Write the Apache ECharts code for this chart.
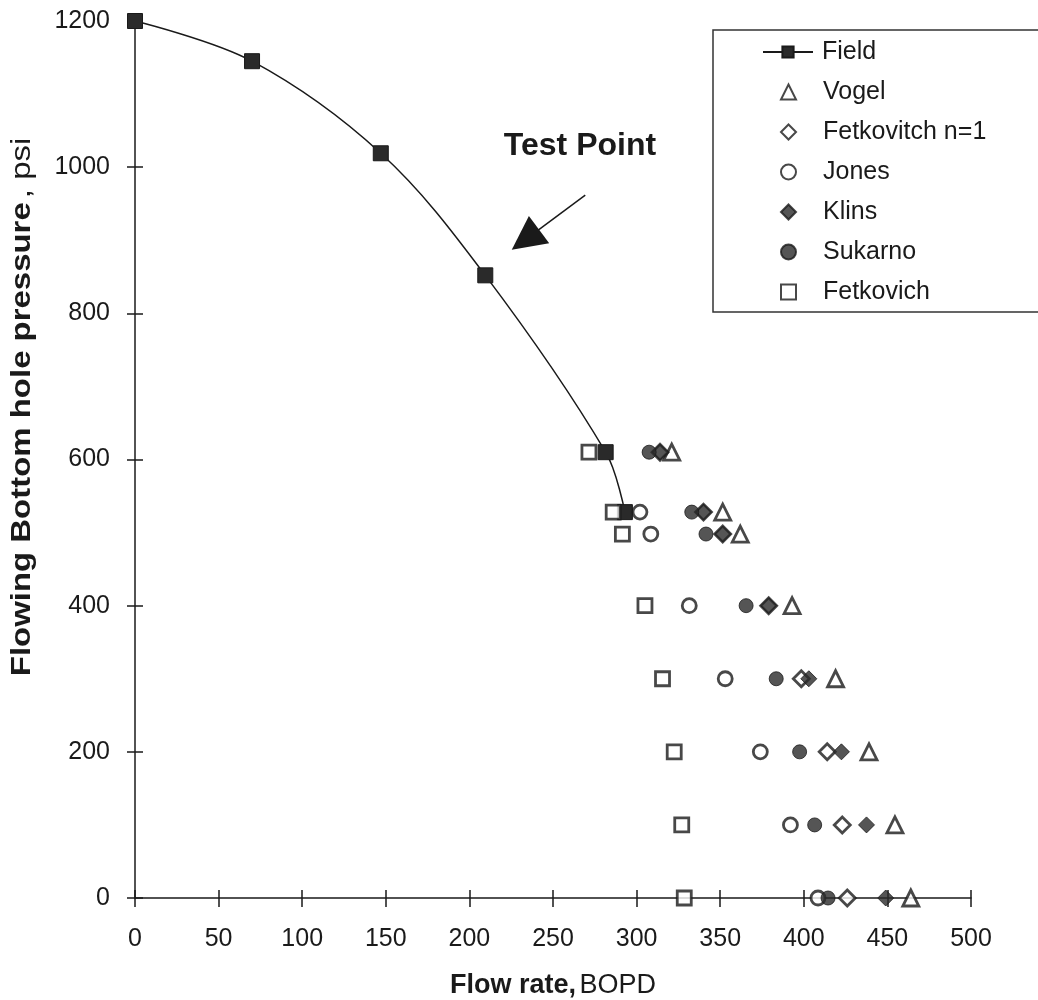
<!DOCTYPE html>
<html>
<head>
<meta charset="utf-8">
<script src="https://cdn.jsdelivr.net/npm/echarts@6/dist/echarts.min.js"></script>
<style>
  html, body { margin: 0; padding: 0; background: #ffffff; }
  #chart { width: 1038px; height: 1000px; }
</style>
</head>
<body>
<div id="chart"></div>
<script>
// Measured field IPR (flow rate vs flowing bottom-hole pressure)
const fieldRate = [0, 70, 147, 209.5, 281.5, 293];
const fieldPwf = [1200, 1145, 1019, 852, 610, 528];

// Pressure levels at which each IPR method was evaluated
const pwfLevels = [610, 528, 498, 400, 300, 200, 100, 0];

// Predicted rates (BOPD) per method at the levels above
const vogelRate = [321, 351.5, 362, 393, 419, 439, 454.5, 464];
const fetkovitchN1Rate = [314, 340, 351.5, 379, 398.5, 414, 423, 426];
const jonesRate = [null, 302, 308.5, 331.5, 353, 374, 392, 408.5];
const klinsRate = [314, 340, 351.5, 379, 403, 422.5, 437.5, 449];
const sukarnoRate = [307.5, 333, 341.5, 365.5, 383.5, 397.5, 406.5, 414.5];
const fetkovichRate = [271.5, 286, 291.5, 305, 315.5, 322.5, 327, 328.5];

// Axis settings
const xTicks = { min: 0, max: 500, interval: 50 };
const yTicks = { min: 0, max: 1200, interval: 200 };

// Test-point annotation arrow (data units)
const arrowTail = [269.3, 961.8];
const arrowHead = [233.5, 900.8];

const INK = '#1a1a1a';
const FILL = '#2a2a2a';
const FONT = '"Liberation Sans", Arial, sans-serif';

function pairs(rates, levels) {
  const out = [];
  rates.forEach((r, i) => { if (r !== null) out.push([r, levels[i]]); });
  return out;
}

const hollow = { color: '#ffffff', borderColor: INK, borderWidth: 2.8 };
const filled = { color: FILL, borderColor: INK, borderWidth: 1 };

function scatter(name, symbol, size, rates, style) {
  return {
    name: name,
    type: 'scatter',
    symbol: symbol,
    symbolSize: size,
    data: pairs(rates, pwfLevels),
    itemStyle: style,
    emphasis: { disabled: true },
    z: 3
  };
}

const chart = echarts.init(document.getElementById('chart'), null, { renderer: 'canvas' });

const axisText = { color: INK, fontSize: 25, fontFamily: FONT, formatter: v => String(v) };
const legendText = { color: INK, fontSize: 25, fontFamily: FONT, lineHeight: 26 };

chart.setOption({
  backgroundColor: '#ffffff',
  animation: false,
  grid: { left: 135, right: 67, top: 21, bottom: 102, containLabel: false, outerBoundsMode: 'none' },
  xAxis: [
    {
      type: 'value', min: xTicks.min, max: xTicks.max, interval: xTicks.interval,
      position: 'bottom',
      axisLine: { show: true, lineStyle: { color: INK, width: 1.5 } },
      axisTick: { show: true, inside: false, length: 9, lineStyle: { color: INK, width: 1.5 } },
      axisLabel: Object.assign({ margin: 29 }, axisText),
      splitLine: { show: false },
      name: '{b|Flow rate,} {r|BOPD}',
      nameLocation: 'middle',
      nameGap: 74,
      nameTextStyle: {
        rich: {
          b: { fontSize: 27, fontWeight: 'bold', fontFamily: FONT, color: INK },
          r: { fontSize: 27, fontFamily: FONT, color: INK }
        }
      }
    },
    {
      type: 'value', min: xTicks.min, max: xTicks.max, interval: xTicks.interval,
      position: 'bottom',
      axisLine: { show: false },
      axisTick: { show: true, inside: true, length: 8, lineStyle: { color: INK, width: 1.5 } },
      axisLabel: { show: false },
      splitLine: { show: false }
    }
  ],
  yAxis: [
    {
      type: 'value', min: yTicks.min, max: yTicks.max, interval: yTicks.interval,
      position: 'left',
      axisLine: { show: true, lineStyle: { color: INK, width: 1.5 } },
      axisTick: { show: true, inside: false, length: 8, lineStyle: { color: INK, width: 1.5 } },
      axisLabel: Object.assign({ margin: 25 }, axisText),
      splitLine: { show: false }
    },
    {
      type: 'value', min: yTicks.min, max: yTicks.max, interval: yTicks.interval,
      position: 'left',
      axisLine: { show: false },
      axisTick: { show: true, inside: true, length: 8, lineStyle: { color: INK, width: 1.5 } },
      axisLabel: { show: false },
      splitLine: { show: false }
    }
  ],
  legend: [
    {
      // line + marker entry
      orient: 'vertical',
      left: 762,
      top: 39,
      padding: 0,
      itemWidth: 50,
      itemHeight: 14,
      textStyle: Object.assign({ padding: [0, 0, 0, 4] }, legendText),
      data: ['Field']
    },
    {
      // marker-only entries
      orient: 'vertical',
      left: 780,
      top: 79,
      padding: 0,
      itemWidth: 15,
      itemHeight: 15,
      itemGap: 14,
      textStyle: Object.assign({ padding: [0, 0, 0, 22] }, legendText),
      data: ['Vogel', 'Fetkovitch n=1', 'Jones', 'Klins', 'Sukarno', 'Fetkovich']
    }
  ],
  graphic: [
    {
      type: 'rect',
      shape: { x: 713, y: 30, width: 360, height: 282 },
      style: { fill: 'none', stroke: '#333', lineWidth: 1.5 },
      silent: true
    },
    {
      type: 'text',
      x: 23, y: 407,
      rotation: Math.PI / 2,
      scaleX: 1.22,
      style: {
        text: '{b|Flowing Bottom hole pressure} {r|, psi}',
        align: 'center',
        verticalAlign: 'middle',
        rich: {
          b: { fontSize: 27, fontWeight: 'bold', fontFamily: FONT, fill: INK },
          r: { fontSize: 27, fontFamily: FONT, fill: INK }
        }
      },
      silent: true
    },
    {
      type: 'text',
      x: 580, y: 146,
      style: {
        text: 'Test Point',
        align: 'center',
        verticalAlign: 'middle',
        font: 'bold 32px ' + FONT,
        fill: INK
      },
      silent: true
    }
  ],
  series: [
    {
      name: 'Field',
      type: 'line',
      data: fieldRate.map((x, i) => [x, fieldPwf[i]]),
      smooth: 0.35,
      symbol: 'rect',
      symbolSize: 15,
      showSymbol: true,
      lineStyle: { color: INK, width: 1.5 },
      itemStyle: { color: FILL, borderColor: INK, borderWidth: 1 },
      emphasis: { disabled: true },
      z: 2,
      markLine: {
        silent: true,
        symbol: ['none', 'triangle'],
        symbolSize: 34,
        label: { show: false },
        lineStyle: { color: INK, width: 1.5, type: 'solid' },
        itemStyle: { color: FILL },
        emphasis: { disabled: true },
        data: [[
          { coord: arrowTail },
          { coord: arrowHead }
        ]]
      }
    },
    scatter('Vogel', 'triangle', 16, vogelRate, hollow),
    scatter('Fetkovitch n=1', 'diamond', 16, fetkovitchN1Rate, hollow),
    scatter('Jones', 'circle', 14, jonesRate, hollow),
    scatter('Klins', 'diamond', 16, klinsRate, filled),
    scatter('Sukarno', 'circle', 14, sukarnoRate, filled),
    scatter('Fetkovich', 'rect', 14, fetkovichRate, hollow)
  ]
});
</script>
</body>
</html>
